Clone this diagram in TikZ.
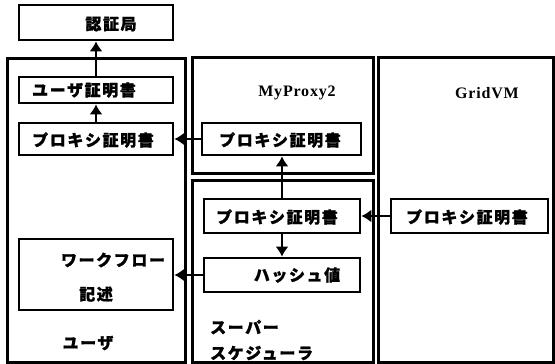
\documentclass[tikz,border=0pt]{standalone}
\usepackage{fontspec}
\newfontfamily\jp{Noto Sans CJK JP}[LetterSpace=10,BoldFeatures={FakeBold=1.2}]
\newfontfamily\lat{Liberation Serif}[LetterSpace=5]
\usetikzlibrary{arrows.meta}
\begin{document}
\begin{tikzpicture}[x=1pt,y=-1pt,
  outer/.style={draw,line width=3pt,inner sep=0pt},
  inner/.style={draw,line width=2.6pt,inner sep=0pt},
  jtext/.style={inner sep=0pt,font=\jp\bfseries\fontsize{16}{18}\selectfont},
  ltext/.style={inner sep=0pt,font=\lat\bfseries\fontsize{16}{18}\selectfont},
  arr/.style={line width=2.4pt,-{Latex[length=10pt,width=13pt]}}]
\useasboundingbox (0,0) rectangle (555,364);
% outer boxes
\node[outer,minimum width=178pt,minimum height=304pt] (user) at (96,210) {};
\node[outer,minimum width=181pt,minimum height=116pt] (myproxy) at (282.5,115) {};
\node[outer,minimum width=181pt,minimum height=182pt] (ss) at (282.5,271) {};
\node[outer,minimum width=175pt,minimum height=305pt] (gridvm) at (465.5,209.5) {};
% inner boxes
\node[inner,minimum width=154pt,minimum height=35pt] (ca) at (96,22.5) {};
\node[inner,minimum width=154pt,minimum height=26pt] (ucert) at (96,90) {};
\node[inner,minimum width=154pt,minimum height=32pt] (uproxy) at (96,139) {};
\node[inner,minimum width=154pt,minimum height=71pt] (workflow) at (96,274.5) {};
\node[inner,minimum width=159pt,minimum height=32pt] (mpproxy) at (281.5,139) {};
\node[inner,minimum width=156pt,minimum height=34pt] (ssproxy) at (282,216) {};
\node[inner,minimum width=156pt,minimum height=34pt] (hash) at (282,275) {};
\node[inner,minimum width=157pt,minimum height=34pt] (gvproxy) at (469.5,216) {};
% texts
\node[jtext] (tca) at (111,24) {認証局};
\node[jtext] (tucert) at (84,90) {ユーザ証明書};
\node[jtext] (tuproxy) at (93,140) {プロキシ証明書};
\node[jtext] (tmpproxy) at (280,140) {プロキシ証明書};
\node[jtext] (tssproxy) at (277,217) {プロキシ証明書};
\node[jtext] (thash) at (297,275) {ハッシュ値};
\node[jtext] (tgvproxy) at (467,217) {プロキシ証明書};
\node[jtext] (twf1) at (113,260) {ワークフロー};
\node[jtext] (twf2) at (96,294) {記述};
\node[jtext] (tuser) at (88,343) {ユーザ};
\node[jtext,anchor=west] (tss1) at (210,327) {スーパー};
\node[jtext,anchor=west] (tss2) at (210,353) {スケジューラ};
\node[ltext] (tmp) at (297,93) {MyProxy2};
\node[ltext] (tgv) at (487,93) {GridVM};
% arrows
\draw[arr] (ucert.north) -- (ca.south);
\draw[arr] (uproxy.north) -- (ucert.south);
\draw[arr] (mpproxy.west) -- (uproxy.east);
\draw[arr] (ssproxy.north) -- (ssproxy.north |- mpproxy.south);
\draw[arr] (ssproxy.south) -- (hash.north);
\draw[arr] (gvproxy.west) -- (ssproxy.east);
\draw[arr] (hash.west) -- (hash.west -| workflow.east);
\end{tikzpicture}
\end{document}
